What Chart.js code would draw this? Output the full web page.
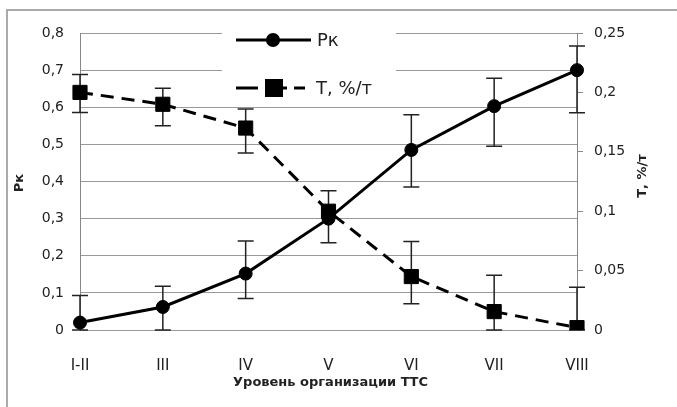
<!DOCTYPE html>
<html lang="ru">
<head>
<meta charset="UTF-8">
<title>Рк и Т по уровням ТТС</title>
<style>
    body { margin: 0; background: #fff; }
    .chartBox { width: 677px; height: 407px; position: relative; }
</style>
</head>
<body>
<div class="chartBox">
    <canvas id="ttsChart"></canvas>
</div>

<script src="https://cdn.jsdelivr.net/npm/chart.js"></script>
<script>
    // данные с картинки
    const categories = ['I-II', 'III', 'IV', 'V', 'VI', 'VII', 'VIII'];

    const pkValues = [0.02, 0.062, 0.152, 0.30, 0.485, 0.603, 0.70];
    const pkLow    = [0, 0, 0.085, 0.235, 0.385, 0.495, 0.585];
    const pkHigh   = [0.093, 0.118, 0.24, 0.375, 0.58, 0.678, 0.765];

    const tValues = [0.2, 0.19, 0.17, 0.1, 0.045, 0.0155, 0.002];
    const tLow    = [0.183, 0.172, 0.149, null, 0.022, 0, 0];
    const tHigh   = [0.215, 0.2035, 0.186, null, 0.0746, 0.046, 0.036];

    const FONT = "'DejaVu Sans', Verdana, sans-serif";
    const TEXT = '#222';

    const comma = v => String(Math.round(v * 100) / 100).replace('.', ',');

    // рамка, усы погрешностей, подписи осей и легенда
    const decorPlugin = {
        id: 'decor',
        beforeDatasetsDraw(chart) {
            const ctx = chart.ctx;
            const x = chart.scales.x;
            ctx.save();
            ctx.strokeStyle = '#222';
            ctx.lineWidth = 1.5;
            chart.data.datasets.forEach(ds => {
                const ys = chart.scales[ds.yAxisID];
                ds.errLow.forEach((lo, i) => {
                    const hi = ds.errHigh[i];
                    if (lo === null || hi === null) return;
                    const px = x.getPixelForValue(i);
                    const y1 = ys.getPixelForValue(lo);
                    const y2 = ys.getPixelForValue(hi);
                    ctx.beginPath();
                    ctx.moveTo(px, y1); ctx.lineTo(px, y2);
                    ctx.moveTo(px - 8, y1); ctx.lineTo(px + 8, y1);
                    ctx.moveTo(px - 8, y2); ctx.lineTo(px + 8, y2);
                    ctx.stroke();
                });
            });
            ctx.restore();
        },
        afterDraw(chart) {
            const ctx = chart.ctx;
            const area = chart.chartArea;
            ctx.save();

            // рамка сверху и слева
            ctx.strokeStyle = '#aaa';
            ctx.lineWidth = 2;
            ctx.beginPath();
            ctx.moveTo(7, 407); ctx.lineTo(7, 10); ctx.lineTo(677, 10);
            ctx.stroke();

            // подписи осей
            ctx.fillStyle = TEXT;
            ctx.font = 'bold 13px ' + FONT;
            ctx.textAlign = 'center';
            ctx.textBaseline = 'middle';
            ctx.fillText('Уровень организации ТТС', (area.left + area.right) / 2 + 2, 383);

            ctx.save();
            ctx.translate(20, 183);
            ctx.rotate(-Math.PI / 2);
            ctx.fillText('Рк', 0, 0);
            ctx.restore();

            ctx.save();
            ctx.translate(643, 176);
            ctx.rotate(-Math.PI / 2);
            ctx.fillText('Т, %/т', 0, 0);
            ctx.restore();

            // легенда
            ctx.fillStyle = '#fff';
            ctx.fillRect(222, 28, 174, 78);
            ctx.strokeStyle = '#000';
            ctx.fillStyle = '#000';
            ctx.lineWidth = 3;
            ctx.beginPath();
            ctx.moveTo(236, 40); ctx.lineTo(311, 40);
            ctx.stroke();
            ctx.beginPath();
            ctx.arc(273, 40, 7, 0, Math.PI * 2);
            ctx.fill();

            ctx.setLineDash([22, 7]);
            ctx.beginPath();
            ctx.moveTo(236, 88); ctx.lineTo(305, 88);
            ctx.stroke();
            ctx.setLineDash([]);
            ctx.fillRect(265, 79, 18, 18);

            ctx.fillStyle = TEXT;
            ctx.font = '18px ' + FONT;
            ctx.textAlign = 'left';
            ctx.fillText(chart.data.datasets[0].label, 317, 41);
            ctx.fillText(chart.data.datasets[1].label, 316, 89);
            ctx.restore();
        }
    };

    const config = {
        type: 'line',
        data: {
            labels: categories,
            datasets: [{
                label: 'Рк',
                data: pkValues,
                errLow: pkLow,
                errHigh: pkHigh,
                yAxisID: 'y',
                borderColor: '#000',
                backgroundColor: '#000',
                borderWidth: 3,
                pointStyle: 'circle',
                pointRadius: 6.5,
                pointBorderWidth: 1,
                pointHoverRadius: 6.5,
                tension: 0
            }, {
                label: 'Т, %/т',
                data: tValues,
                errLow: tLow,
                errHigh: tHigh,
                yAxisID: 'y2',
                borderColor: '#000',
                backgroundColor: '#000',
                borderWidth: 3,
                borderDash: [13, 8],
                pointStyle: 'rect',
                pointRadius: 10,
                pointBorderWidth: 1,
                pointHoverRadius: 10,
                tension: 0
            }]
        },
        options: {
            responsive: true,
            maintainAspectRatio: false,
            animation: false,
            layout: { padding: { top: 33, left: 0, right: 0, bottom: 0 } },
            plugins: {
                legend: { display: false },
                tooltip: { enabled: false }
            },
            scales: {
                x: {
                    offset: false,
                    grid: { display: false },
                    border: { display: false },
                    ticks: {
                        color: TEXT,
                        font: { family: FONT, size: 15 },
                        padding: 19,
                        maxRotation: 0,
                        autoSkip: false
                    },
                    afterFit: s => { s.height = 77; }
                },
                y: {
                    position: 'left',
                    min: 0,
                    max: 0.8,
                    ticks: {
                        stepSize: 0.1,
                        color: TEXT,
                        font: { family: FONT, size: 14 },
                        padding: 16,
                        callback: v => comma(v)
                    },
                    grid: { color: '#999', lineWidth: 1, drawTicks: false },
                    border: { color: '#888', width: 1 },
                    afterFit: s => { s.width = 80; }
                },
                y2: {
                    position: 'right',
                    min: 0,
                    max: 0.25,
                    ticks: {
                        stepSize: 0.05,
                        color: TEXT,
                        font: { family: FONT, size: 14 },
                        padding: 11,
                        callback: v => comma(v)
                    },
                    grid: { drawOnChartArea: false, color: '#888', tickLength: 6 },
                    border: { color: '#888', width: 1 },
                    afterFit: s => { s.width = 100; }
                }
            }
        },
        plugins: [decorPlugin]
    };

    const ctx = document.getElementById('ttsChart');
    const ttsChart = new Chart(ctx, config);
</script>
</body>
</html>
